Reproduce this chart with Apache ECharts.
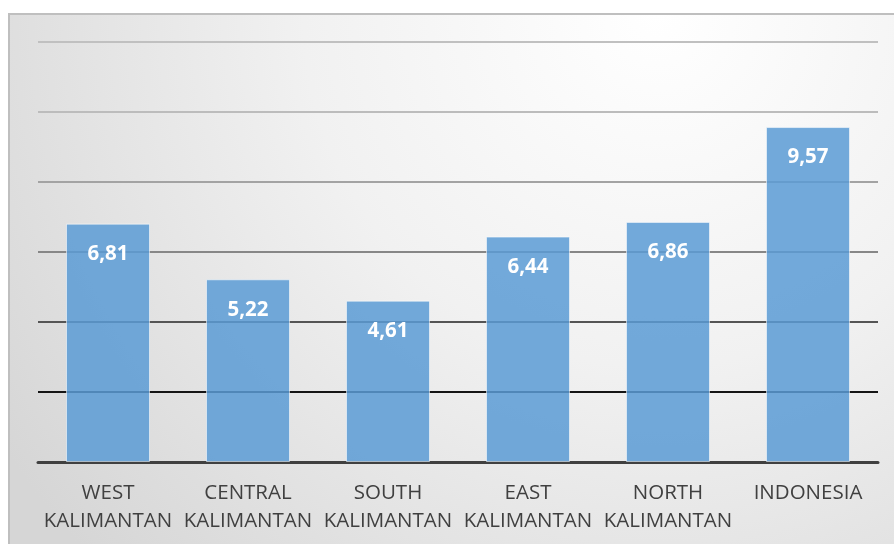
<!DOCTYPE html>
<html>
<head>
<meta charset="utf-8">
<script src="https://cdn.jsdelivr.net/npm/echarts@6/dist/echarts.min.js"></script>
<style>
html,body{margin:0;padding:0;background:#fff;}
#c{width:894px;height:544px;}
</style>
</head>
<body>
<div id="c"></div>
<script>
const categories = ["WEST\nKALIMANTAN", "CENTRAL\nKALIMANTAN", "SOUTH\nKALIMANTAN", "EAST\nKALIMANTAN", "NORTH\nKALIMANTAN", "INDONESIA"];
const values = [6.81, 5.22, 4.61, 6.44, 6.86, 9.57];
const yMin = 0, yMax = 12, yStep = 2;
const gridLineColors = ["#404040", "#151515", "#555555", "#878787", "#a3a3a3", "#bcbcbc", "#c0c0c0"];

const chart = echarts.init(document.getElementById('c'), null, {renderer: 'canvas'});
chart.setOption({
  animation: false,
  graphic: [{
    type: 'rect',
    z: -100,
    shape: {x: 9, y: 14, width: 900, height: 540},
    style: {
      fill: new echarts.graphic.RadialGradient(0.72, 0, 1.45, [
        {offset: 0, color: '#ffffff'},
        {offset: 0.45, color: '#f1f1f1'},
        {offset: 1, color: '#d6d6d6'}
      ]),
      stroke: '#bfbfbf',
      lineWidth: 2
    }
  }],
  grid: {left: 38, right: 16, top: 42, height: 420},
  xAxis: {
    type: 'category',
    data: categories,
    axisTick: {show: false},
    axisLine: {lineStyle: {color: '#404040', width: 3}},
    axisLabel: {
      interval: 0,
      margin: 17,
      color: '#404040',
      fontFamily: 'Open Sans',
      fontSize: 20.5,
      lineHeight: 28
    }
  },
  yAxis: {
    type: 'value',
    min: yMin, max: yMax, interval: yStep,
    axisLabel: {show: false},
    axisLine: {show: false},
    axisTick: {show: false},
    splitLine: {lineStyle: {color: gridLineColors, width: 2}}
  },
  series: [{
    type: 'bar',
    data: values,
    barCategoryGap: '40%',
    itemStyle: {
      color: 'rgba(91,155,213,0.85)',
      borderColor: 'rgba(255,255,255,0.55)',
      borderWidth: 1
    },
    label: {
      show: true,
      position: 'insideTop',
      distance: 20,
      color: '#ffffff',
      fontFamily: 'Open Sans',
      fontWeight: 'bold',
      fontSize: 20.5,
      formatter: p => p.value.toFixed(2).replace('.', ',')
    }
  }]
});
</script>
</body>
</html>
